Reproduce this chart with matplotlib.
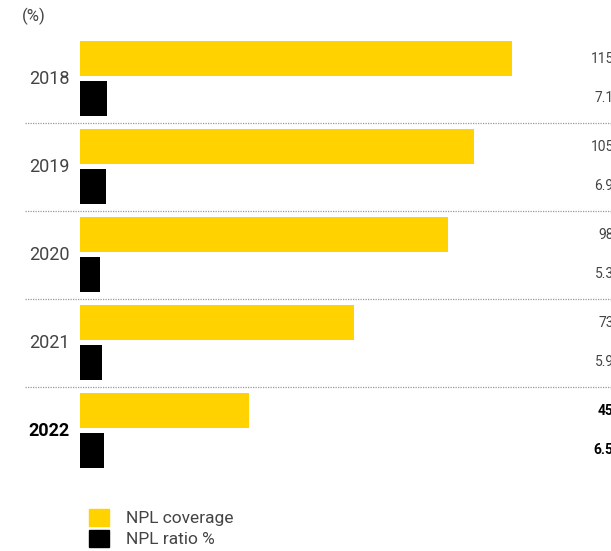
import matplotlib.pyplot as plt
from matplotlib.patches import Patch

years = ["2018", "2019", "2020", "2021", "2022"]
coverage = [115, 105, 98, 73, 45]
ratio = [7.1, 6.9, 5.3, 5.9, 6.5]
coverage_labels = ["115", "105", "98", "73", "45"]
ratio_labels = ["7.1", "6.9", "5.3", "5.9", "6.5"]

yellow = "#FFD200"
grey = "#444444"
plt.rcParams["font.family"] = ["Roboto", "DejaVu Sans"]

fig = plt.figure(figsize=(6.11, 5.51), dpi=100)
ax = fig.add_axes([80 / 611, 1 - 474.5 / 551, 531 / 611, 440 / 551])

pos = list(range(len(years)))
ax.barh([p - 0.225 for p in pos], coverage, height=0.4, color=yellow)
ax.barh([p + 0.225 for p in pos], ratio, height=0.4, color="black")

ax.set_xlim(0, 531 / 3.757)
ax.set_ylim(4.5, -0.5)
ax.axis("off")

# value labels run past the right edge, as in the original
for i, y in enumerate(years):
    bold = i == len(years) - 1
    ax.text(-0.019, i, y, transform=ax.get_yaxis_transform(), ha="right", va="center",
            fontsize=13, color="black" if bold else grey,
            fontweight="bold" if bold else "normal")
    ax.text(1.005, i - 0.225, coverage_labels[i], transform=ax.get_yaxis_transform(),
            ha="right", va="center", fontsize=10, color="black" if bold else grey,
            fontweight="bold" if bold else "normal", clip_on=False)
    ax.text(1.005, i + 0.225, ratio_labels[i], transform=ax.get_yaxis_transform(),
            ha="right", va="center", fontsize=10, color="black" if bold else grey,
            fontweight="bold" if bold else "normal", clip_on=False)

for i in range(len(years) - 1):
    ax.axhline(i + 0.5, xmin=-0.104, xmax=1.0, color="#999999", lw=0.9,
               ls=(0, (1, 1)), clip_on=False)

fig.text(22 / 611, 1 - 16 / 551, "(%)", fontsize=12, color=grey, va="center")

handles = [Patch(color=yellow), Patch(color="black")]
fig.legend(handles, ["NPL coverage", "NPL ratio %"], loc="upper left",
           bbox_to_anchor=(73 / 611, 1 - 493 / 551), frameon=False,
           handlelength=1.15, handleheight=1.15, handletextpad=1.0,
           labelspacing=0.2, fontsize=12.5, labelcolor=grey)

fig.savefig("out.png", dpi=100)
